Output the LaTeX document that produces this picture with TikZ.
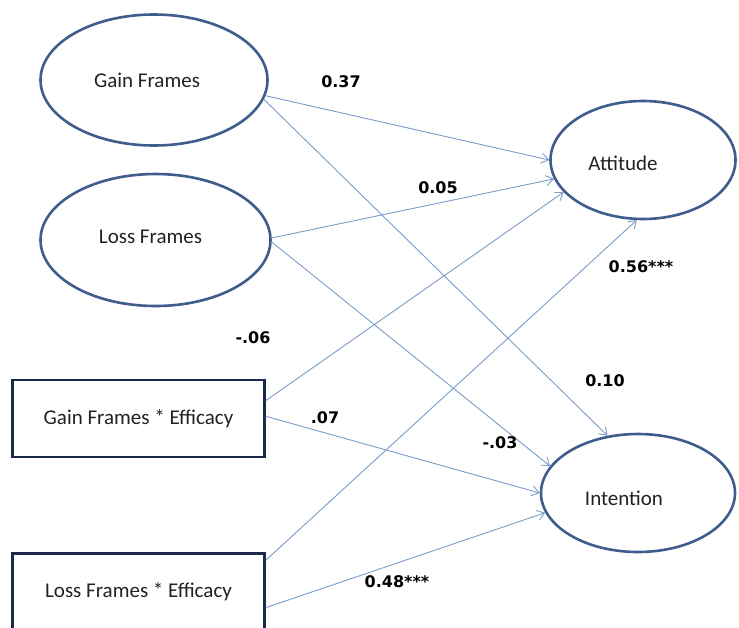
\documentclass[tikz,border=0pt]{standalone}
\usepackage{fontspec}
\setmainfont{Carlito}
\newfontfamily\labfont{DejaVu Sans}
\usetikzlibrary{shapes.geometric,arrows.meta}
\definecolor{ellcol}{HTML}{3E5C8C}
\definecolor{boxcol}{HTML}{1B2A48}
\definecolor{arrcol}{HTML}{7A9CC8}
\definecolor{txtcol}{HTML}{222222}
\begin{document}
\begin{tikzpicture}[x=1pt,y=-1pt,
  nodetext/.style={font=\fontsize{21}{24}\selectfont,text=txtcol},
  latent/.style={ellipse,draw=ellcol,line width=2.6pt,inner sep=0pt},
  every label/.style={nodetext},
  inter/.style={rectangle,draw=boxcol,line width=2.6pt,inner sep=0pt,minimum width=252pt,minimum height=77pt,nodetext},
  path/.style={draw=arrcol,line width=0.9pt,-{Straight Barb[length=7pt,width=10pt]}},
  coef/.style={font=\labfont\bfseries\fontsize{16}{19}\selectfont,text=black}]
\useasboundingbox (0,0) rectangle (739,627);
\begin{scope}
\clip (0,0) rectangle (739,627);
\node[latent,minimum width=227pt,minimum height=131pt,label={[xshift=-7pt]center:Gain Frames}] (gain) at (154,80) {};
\node[latent,minimum width=230pt,minimum height=132pt,label={[xshift=-5pt,yshift=3pt]center:Loss Frames}] (loss) at (155.5,240) {};
\node[latent,minimum width=185pt,minimum height=118pt,label={[xshift=-20pt,yshift=-3pt]center:Attitude}] (att) at (643,160) {};
\node[latent,minimum width=194pt,minimum height=118pt,label={[xshift=-14pt,yshift=-5pt]center:Intention}] (int) at (638,493) {};
\node[inter] (ge) at (138.5,418.5) {Gain Frames * Efficacy};
\node[inter] (le) at (138.5,592) {Loss Frames * Efficacy};
\end{scope}
\draw[path] (gain.-8.5) -- (att.180);
\draw[path] (gain.-10.7) -- (int.118.8);
\draw[path] (loss.1) -- (att.192.5);
\draw[path] (loss.-1.5) -- (int.163.3);
\draw[path] (ge.8.7) -- (att.202.2);
\draw[path] (ge.1.6) -- (int.180);
\draw[path] (le.14.9) -- (att.264.4);
\draw[path] (le.-7.2) -- (int.192.1);
\node[coef] (c1) at (341,82) {0.37};
\node[coef] (c2) at (438,188) {0.05};
\node[coef] (c3) at (253,338) {-.06};
\node[coef] (c4) at (605,381) {0.10};
\node[coef] (c5) at (641,267) {0.56***};
\node[coef] (c6) at (325,418) {.07};
\node[coef] (c7) at (500,443) {-.03};
\node[coef] (c8) at (397,582) {0.48***};
\end{tikzpicture}
\end{document}
